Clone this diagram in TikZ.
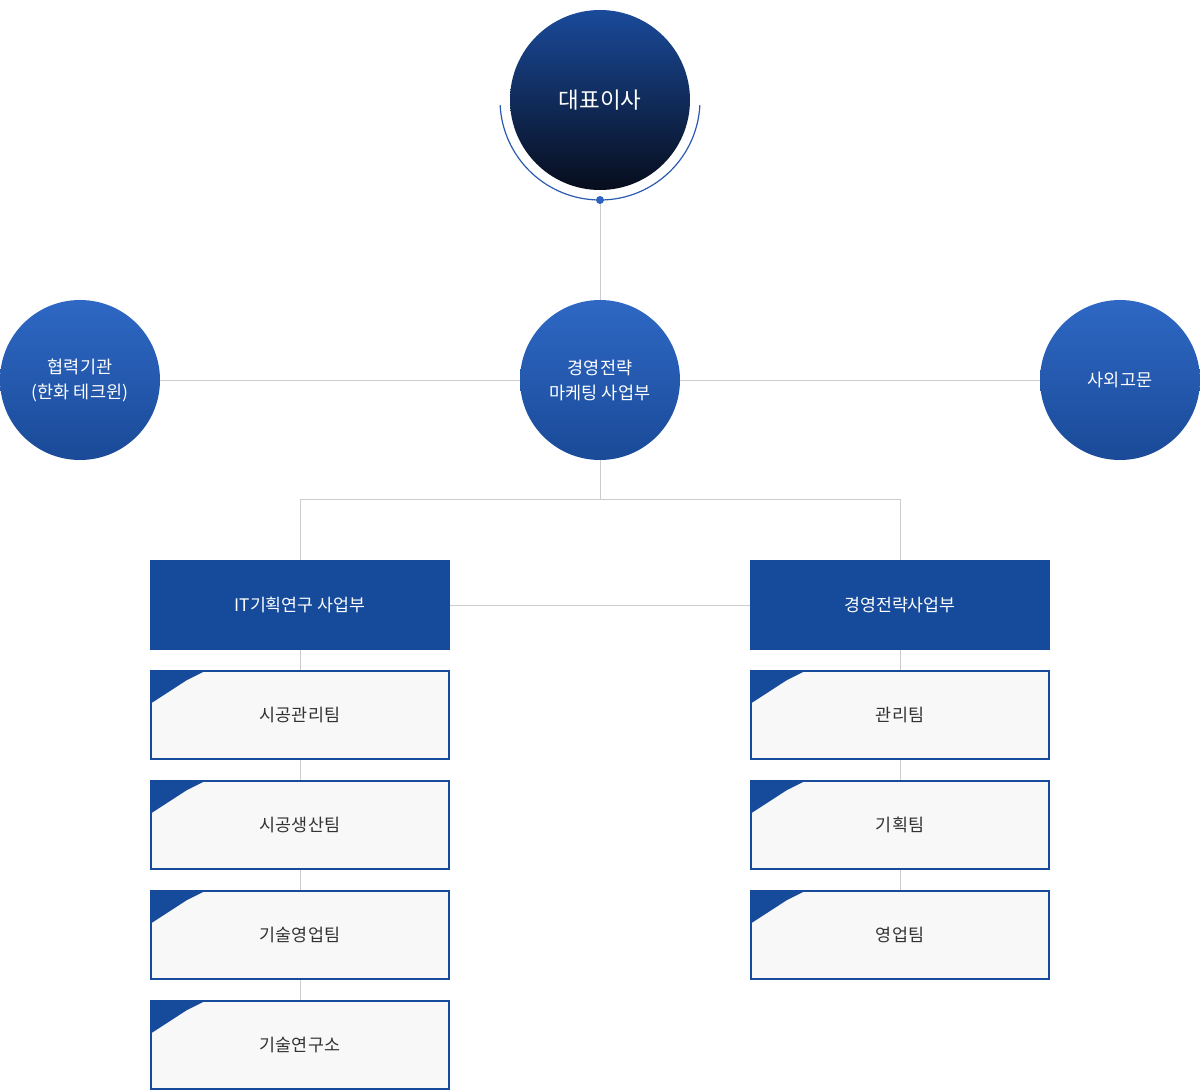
\documentclass[tikz,border=0pt]{standalone}
\usepackage{fontspec}
\setmainfont{Noto Sans CJK KR}
\usetikzlibrary{calc}
\definecolor{navy}{HTML}{164A9A}
\definecolor{topA}{HTML}{1A4A9A}
\definecolor{topB}{HTML}{070D1C}
\definecolor{midA}{HTML}{2E68C4}
\definecolor{midB}{HTML}{1A4A98}
\definecolor{arcc}{HTML}{2A5AB0}
\definecolor{dotc}{HTML}{2D62C0}
\definecolor{linec}{HTML}{CCCCCC}
\definecolor{subfill}{HTML}{F8F8F8}
\definecolor{subtext}{HTML}{333333}
\tikzset{
  topcircle/.style={circle, minimum size=180pt, inner sep=0pt, top color=topA, bottom color=topB, text=white, font=\fontsize{22.5}{26}\selectfont},
  bluecircle/.style={circle, minimum size=160pt, inner sep=0pt, top color=midA, bottom color=midB, text=white, align=center, font=\fontsize{17.5}{25}\selectfont},
  deptbox/.style={rectangle, minimum width=300pt, minimum height=90pt, inner sep=0pt, fill=navy, text=white, font=\fontsize{17.3}{20}\selectfont},
  teambox/.style={rectangle, minimum width=298pt, minimum height=88pt, inner sep=0pt, draw=navy, line width=2pt, fill=subfill, text=subtext, font=\fontsize{17.4}{20}\selectfont},
  conn/.style={draw=linec, line width=1pt}
}
\newcommand{\cornerflag}[1]{%
  \fill[navy] (#1.north west) -- ++(57,0) -- ++(-20,10) -- ($(#1.north west)+(0,34)$) -- cycle;}
\begin{document}
\begin{tikzpicture}[x=1pt,y=-1pt]
\useasboundingbox (0,0) rectangle (1200,1090);
\coordinate (dot) at (600,200);
\node[bluecircle] (mid) at (600,380) {경영전략\\마케팅 사업부};
\node[bluecircle] (left) at (80,380) {협력기관\\(한화 테크윈)};
\node[bluecircle] (right) at (1120,380) {사외고문};
\node[deptbox] (it) at (300,605) {IT기획연구 사업부};
\node[deptbox] (ms) at (900,605) {경영전략사업부};
\coordinate (split) at (600,499);
\draw[conn] (dot) -- (mid.north);
\draw[conn] (left.east) -- (mid.west);
\draw[conn] (mid.east) -- (right.west);
\draw[conn] (mid.south) -- (split) -- (split -| it.north) -- (it.north);
\draw[conn] (split) -- (split -| ms.north) -- (ms.north);
\draw[conn] (it.east) -- (ms.west);
\foreach \y/\n/\t in {715/a1/시공관리팀, 825/a2/시공생산팀, 935/a3/기술영업팀, 1045/a4/기술연구소}{
  \node[teambox] (\n) at (300,\y) {\t};
}
\foreach \y/\n/\t in {715/b1/관리팀, 825/b2/기획팀, 935/b3/영업팀}{
  \node[teambox] (\n) at (900,\y) {\t};
}
\draw[conn] (it.south) -- (a1.north);
\draw[conn] (a1.south) -- (a2.north);
\draw[conn] (a2.south) -- (a3.north);
\draw[conn] (a3.south) -- (a4.north);
\draw[conn] (ms.south) -- (b1.north);
\draw[conn] (b1.south) -- (b2.north);
\draw[conn] (b2.south) -- (b3.north);
\foreach \n in {a1,a2,a3,a4,b1,b2,b3}{\cornerflag{\n}}
\node[topcircle] (ceo) at (600,100) {대표이사};
\draw[arcc, line width=1.2pt] ($(ceo.center)+(3:100)$) arc[start angle=3, end angle=177, radius=100];
\fill[dotc] (dot) circle (4);
\end{tikzpicture}
\end{document}
